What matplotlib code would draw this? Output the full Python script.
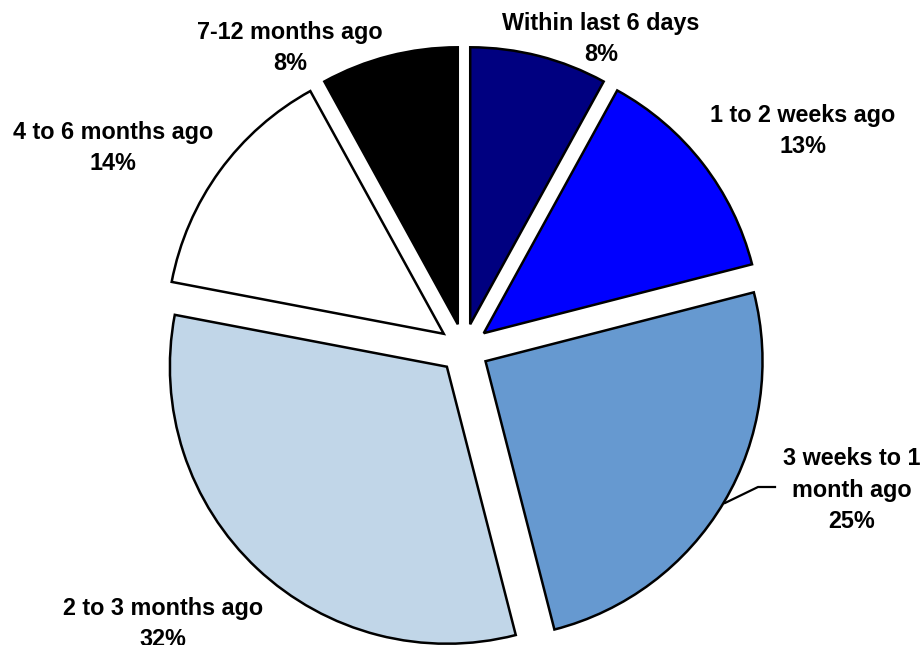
import matplotlib
matplotlib.use("Agg")
import matplotlib.pyplot as plt

plt.rcParams['font.family'] = ['Liberation Sans', 'DejaVu Sans']

categories = ["Within last 6 days", "1 to 2 weeks ago", "3 weeks to 1\nmonth ago",
              "2 to 3 months ago", "4 to 6 months ago", "7-12 months ago"]
shares = [8, 13, 25, 32, 14, 8]
colors = ["#000080", "#0000FF", "#6699D0", "#C1D6E8", "#FFFFFF", "#000000"]

W, H = 922, 645
fig = plt.figure(figsize=(W / 100, H / 100), dpi=100)
ax = fig.add_axes([0, 0, 1, 1])

cx, cy, R = 464, H - 348.5, 277
gap = 25  # offset of every slice from the centre, in data units
wedges, _ = ax.pie(shares, colors=colors, startangle=90, counterclock=False,
                   explode=[gap] * len(shares), center=(cx, cy), radius=R,
                   wedgeprops=dict(edgecolor="black", linewidth=1.8))

ax.set_xlim(0, W)
ax.set_ylim(0, H)
ax.set_aspect("equal")
ax.axis("off")

# label anchor points (pixel coordinates from top-left)
label_pos = [(601, 39), (803, 131), (852, 490), (163, 624), (113, 148), (290, 48)]
for name, val, (x, y) in zip(categories, shares, label_pos):
    ax.text(x, H - y, f"{name}\n{val}%", ha="center", va="center",
            fontsize=16.8, fontweight="bold", linespacing=1.48)

# leader line for the "3 weeks to 1 month ago" label
ax.plot([725, 758, 775], [H - 503, H - 487, H - 487], color="black", lw=1.6)

fig.savefig("out.png", dpi=100)
